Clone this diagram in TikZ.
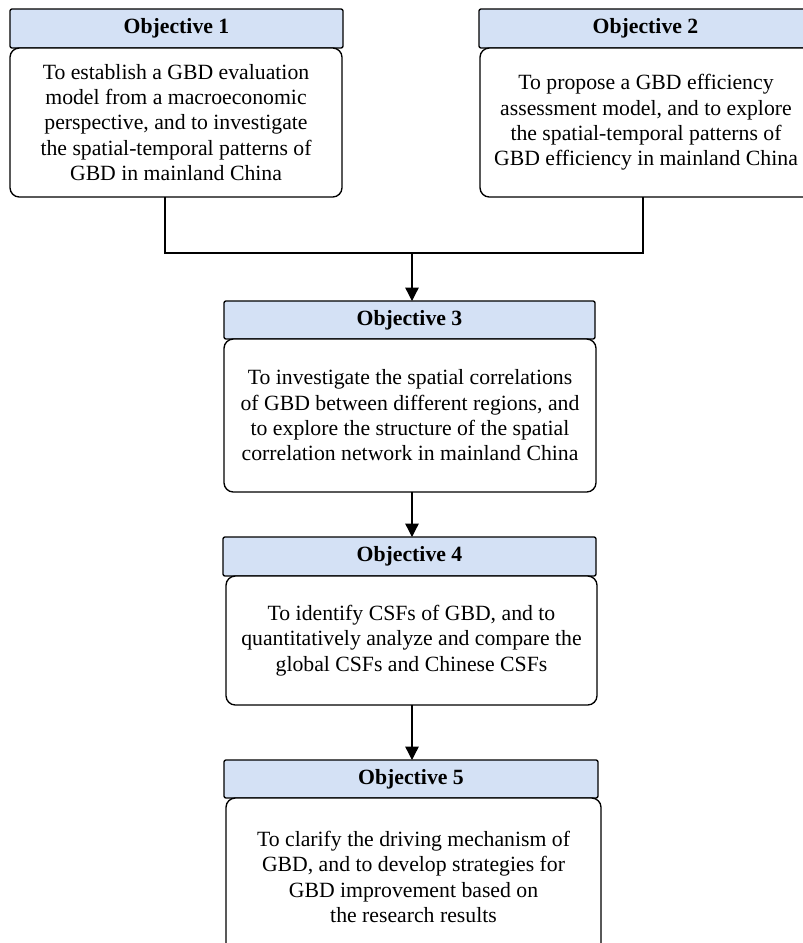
\documentclass[tikz,border=0pt]{standalone}
\usepackage{fontspec}
\setmainfont{Liberation Serif}
\usetikzlibrary{arrows.meta,calc}
\definecolor{hdrblue}{HTML}{D4E1F5}
\begin{document}
\begin{tikzpicture}[x=0.75pt,y=-0.75pt,
  every node/.style={inner sep=0pt,outer sep=0pt},
  hdr/.style={draw=black,line width=1pt,fill=hdrblue,rounded corners=1.5pt,
    anchor=north west,font=\fontsize{16.3}{19}\selectfont\bfseries},
  body/.style={draw=black,line width=1pt,fill=white,rounded corners=7pt,
    anchor=north west,align=center,font=\fontsize{16.3}{19}\selectfont},
  link/.style={line width=1pt,draw=black},
  arrowlink/.style={link,-{Triangle[width=10pt,length=10pt]}}]
\useasboundingbox (0,0) rectangle (803,943);

% top row
\node[hdr,minimum width=249.75pt,minimum height=29.25pt] (h1) at (10,9) {Objective 1};
\node[body,minimum width=249pt,minimum height=111.75pt] (b1) at (10,48)
  {To establish a GBD evaluation\\model from a macroeconomic\\perspective, and to investigate\\the spatial-temporal patterns of\\GBD in mainland China};
\node[hdr,minimum width=249.75pt,minimum height=29.25pt] (h2) at (479,9) {Objective 2};
\node[body,minimum width=249pt,minimum height=111.75pt] (b2) at (480,48)
  {To propose a GBD efficiency\\assessment model, and to explore\\the spatial-temporal patterns of\\GBD efficiency in mainland China};

% middle column
\node[hdr,minimum width=278.25pt,minimum height=28.5pt] (h3) at (224,301) {Objective 3};
\node[body,minimum width=279pt,minimum height=114.75pt] (b3) at (224,339)
  {To investigate the spatial correlations\\of GBD between different regions, and\\to explore the structure of the spatial\\correlation network in mainland China};
\node[hdr,minimum width=279.75pt,minimum height=29.25pt] (h4) at (223,537) {Objective 4};
\node[body,minimum width=278.25pt,minimum height=96.75pt] (b4) at (226,576)
  {To identify CSFs of GBD, and to\\quantitatively analyze and compare the\\global CSFs and Chinese CSFs};
\node[hdr,minimum width=280.5pt,minimum height=28.5pt] (h5) at (224,760) {Objective 5};
\node[body,minimum width=281.25pt,minimum height=118.5pt] (b5) at (226,798)
  {To clarify the driving mechanism of\\GBD, and to develop strategies for\\GBD improvement based on\\the research results};

% connectors
\coordinate (jn) at (412,253);
\draw[link] ([xshift=-8.25pt]b1.south) |- (jn) -| ([xshift=-2.25pt]b2.south);
\draw[arrowlink] (jn) -- (h3.north -| jn);
\draw[arrowlink] (b3.south -| jn) -- (h4.north -| jn);
\draw[arrowlink] (b4.south -| jn) -- (h5.north -| jn);
\end{tikzpicture}
\end{document}
